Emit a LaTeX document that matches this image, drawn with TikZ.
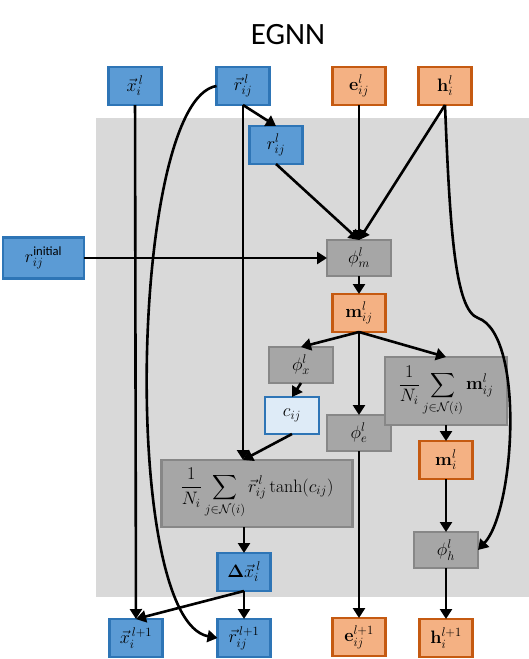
\RequirePackage{fix-cm}
\documentclass[tikz,border=0pt]{standalone}
\usepackage[no-math]{fontspec}
\usepackage{amsmath}
\usepackage{tikz}
\usetikzlibrary{arrows.meta, positioning}
\newfontfamily\carlito{Carlito}
\definecolor{bluefill}{HTML}{5B9BD5}
\definecolor{bluedraw}{HTML}{2E75B6}
\definecolor{lightblue}{HTML}{DEEBF7}
\definecolor{orangefill}{HTML}{F4B183}
\definecolor{orangedraw}{HTML}{C55A11}
\definecolor{grayfill}{HTML}{A6A6A6}
\definecolor{graydraw}{HTML}{878787}
\definecolor{panel}{HTML}{D9D9D9}

\begin{document}
\begin{tikzpicture}[
  x=1pt, y=-1pt,
  box/.style={draw, line width=2.4pt, outer sep=0pt, minimum width=53pt, minimum height=38pt, inner sep=2pt, align=center, font=\fontsize{18}{21}\selectfont},
  vec/.style={box, fill=bluefill, draw=bluedraw},
  feat/.style={box, fill=orangefill, draw=orangedraw},
  op/.style={box, fill=grayfill, draw=graydraw, minimum width=64pt, minimum height=36pt},
  arr/.style={-{Triangle[length=10pt, width=12pt]}, line width=2.6pt},
]
\useasboundingbox (0,0) rectangle (529,659);
\fill[panel] (96,118) rectangle (529,597);

\node[font=\carlito\fontsize{31}{36}\selectfont] (title) at (288,35) {EGNN};

% inputs
\node[vec] (xi) at (135,86) {$\vec{x}_i^{\,l}$};
\node[vec] (rv) at (243,86) {$\vec{r}_{ij}^{\,l}$};
\node[feat] (eij) at (359,86) {$\mathbf{e}_{ij}^{l}$};
\node[feat] (hi) at (445,86) {$\mathbf{h}_{i}^{l}$};
\node[vec, below=21pt of rv, xshift=33pt] (rs) {$r_{ij}^{l}$};

% message
\node[op, below=135pt of eij] (phim) {$\phi_m^l$};
\node[vec, left=243pt of phim, minimum width=81pt, minimum height=41pt] (rin) {$r_{ij}^{\text{\carlito initial}}$};
\node[feat, below=18pt of phim] (mij) {$\mathbf{m}_{ij}^{l}$};
\node[op, below=15pt of mij, xshift=-58pt] (phix) {$\phi_x^l$};
\node[vec, fill=lightblue, below=14pt of phix, xshift=-9pt, minimum width=54pt, minimum height=37pt] (cij) {$c_{ij}$};
\node[op, below=83pt of mij] (phie) {$\phi_e^l$};
\node[op, below=25pt of mij, xshift=87pt, minimum width=122pt, minimum height=68pt] (summ) {$\dfrac{1}{N_i}\displaystyle\sum_{j\in\mathcal{N}(i)}\mathbf{m}_{ij}^{l}$};
\node[feat, below=16pt of summ] (mi) {$\mathbf{m}_i^l$};
\node[op, below=53pt of mi] (phih) {$\phi_h^l$};
\node[op, below=26pt of cij, xshift=-35pt, minimum width=191pt, minimum height=67pt] (sumr) {$\dfrac{1}{N_i}\displaystyle\sum_{j\in\mathcal{N}(i)}\vec{r}_{ij}^{\,l}\tanh(c_{ij})$};
\node[vec, below=26pt of sumr, xshift=-13pt] (dx) {$\mathbf{\Delta}\vec{x}_i^{\,l}$};

% outputs
\node[vec, below=28pt of dx] (rn) {$\vec{r}_{ij}^{\,l+1}$};
\node[vec, left=55pt of rn] (xn) {$\vec{x}_i^{\,l+1}$};
\node[feat, below=167pt of phie] (en) {$\mathbf{e}_{ij}^{l+1}$};
\node[feat, below=51pt of phih] (hn) {$\mathbf{h}_i^{l+1}$};

\coordinate (sumin) at (rv.south |- sumr.north);

\draw[arr] (xi) -- (xn);
\draw[arr] (rv.west) .. controls (130,100) and (120,620) .. (rn.west);
\draw[arr] (rv.south) -- (sumin);
\draw[arr] (rv.south) -- (rs.north);
\draw[arr] (rs.south) -- (phim.north);
\draw[arr] (eij) -- (phim);
\draw[arr] (hi.south) -- (phim.north);
\draw[arr] (hi.south) .. controls (450,230) and (455,310) .. (478,318) .. controls (525,335) and (515,510) .. (phih.east);
\draw[arr] (rin) -- (phim);
\draw[arr] (phim) -- (mij);
\draw[arr] (mij.south) -- (phix.north);
\draw[arr] (mij) -- (phie);
\draw[arr] (mij.south) -- (summ.north);
\draw[arr] (phix.south) -- (cij.north);
\draw[arr] (cij.south) -- (sumin);
\draw[arr] (phie) -- (en);
\draw[arr] (summ) -- (mi);
\draw[arr] (mi) -- (phih);
\draw[arr] (phih) -- (hn);
\draw[arr] (dx.north |- sumr.south) -- (dx.north);
\draw[arr] (dx) -- (rn);
\draw[arr] (dx.south) -- (xn.north);
\end{tikzpicture}
\end{document}
